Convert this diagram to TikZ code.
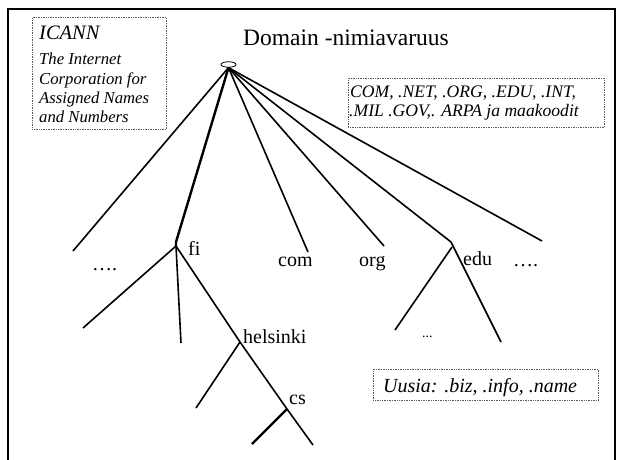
\documentclass[tikz,border=0pt]{standalone}
\usepackage{fontspec}
\setmainfont{Liberation Serif}
\usetikzlibrary{shapes.geometric}
\begin{document}
\begin{tikzpicture}[x=1pt,y=-1pt,
  branch/.style={line width=1.6pt},
  thickbranch/.style={line width=2.4pt},
  dotbox/.style={draw=black!65, densely dotted, line width=0.7pt, inner sep=0pt},
  lbl/.style={font=\fontsize{20}{24}\selectfont, inner sep=0pt, anchor=base west},
  itx/.style={font=\itshape, inner sep=0pt, anchor=base west},
]
\useasboundingbox (0,0) rectangle (620,459);
\draw[line width=2.6pt] (8,470) -- (8,9) -- (615,9) -- (615,470);

% title
\node[font=\fontsize{23.5}{28}\selectfont, inner sep=0pt, anchor=base] (title) at (346,45) {Domain -nimiavaruus};

% dotted boxes
\node[dotbox, minimum width=134, minimum height=112, anchor=north west] (icannbox) at (32,17) {};
\node[itx, font=\itshape\fontsize{20.5}{24}\selectfont] (icann) at (39,39) {ICANN};
\node[itx, font=\itshape\fontsize{16.7}{20}\selectfont] (icann1) at (39,64) {The Internet};
\node[itx, font=\itshape\fontsize{16.7}{20}\selectfont] (icann2) at (39,84) {Corporation for};
\node[itx, font=\itshape\fontsize{16.7}{20}\selectfont] (icann3) at (39,103) {Assigned Names};
\node[itx, font=\itshape\fontsize{16.7}{20}\selectfont] (icann4) at (39,122) {and Numbers};

\node[dotbox, minimum width=256, minimum height=49, anchor=north west] (combox) at (348,78) {};
\node[itx, font=\itshape\fontsize{17.6}{20}\selectfont] (com1) at (350,97) {COM, .NET, .ORG, .EDU, .INT,};
\node[itx, font=\itshape\fontsize{17.6}{20}\selectfont] (com2) at (349,116) {.MIL .GOV,. ARPA ja maakoodit};

\node[dotbox, minimum width=225, minimum height=31, anchor=north west] (newbox) at (373,369) {};
\node[itx, font=\itshape\fontsize{20}{24}\selectfont] (uusia) at (383,392) {Uusia: .biz, .info, .name};

% tree junctions and ends
\coordinate (dotsL) at (73,251);
\coordinate (fiTop) at (176,242);
\coordinate (fiJ) at (176,246);
\coordinate (comE) at (308,252);
\coordinate (orgE) at (384,246);
\coordinate (eduJ) at (451,242);
\coordinate (eduL) at (452,247);
\coordinate (dotsR) at (542,241);
\coordinate (fiL) at (83,328);
\coordinate (fiV) at (181,343);
\coordinate (helJ) at (240,342);
\coordinate (helL) at (196,408);
\coordinate (csJ) at (287,409);
\coordinate (csR) at (313,445);
\coordinate (csL) at (252,444);
\coordinate (eduLE) at (395,330);
\coordinate (eduRE) at (501,342);

\node[draw, ellipse, fill=white, line width=0.8pt, minimum width=15, minimum height=5.5, inner sep=0pt] (root) at (228.5,64.5) {};

\draw[branch] (root.south) -- (dotsL);
\draw[thickbranch] (root.south) -- (fiTop) -- (fiJ);
\draw[branch] (root.south) -- (comE);
\draw[branch] (root.south) -- (orgE);
\draw[branch] (root.south) -- (eduJ);
\draw[branch] (root.south) -- (dotsR);

\draw[branch] (fiJ) -- (fiL);
\draw[branch] (fiJ) -- (fiV);
\draw[branch] (fiJ) -- (helJ) -- (csJ) -- (csR);
\draw[branch] (helJ) -- (helL);
\draw[thickbranch] (csJ) -- (csL);
\draw[branch] (eduJ) -- (eduRE);
\draw[branch] (eduL) -- (eduLE);

% labels
\node[lbl] (ldots) at (92,270) {….};
\node[lbl] (fi) at (188,255) {fi};
\node[lbl] (com) at (278,266) {com};
\node[lbl] (org) at (359,266) {org};
\node[lbl] (edu) at (463,265) {edu};
\node[lbl] (rdots) at (513,266) {….};
\node[lbl] (hel) at (243,343) {helsinki};
\node[lbl] (cs) at (289,404) {cs};
\node[lbl, font=\fontsize{14}{16}\selectfont] (edots) at (422,337) {...};
\end{tikzpicture}
\end{document}
